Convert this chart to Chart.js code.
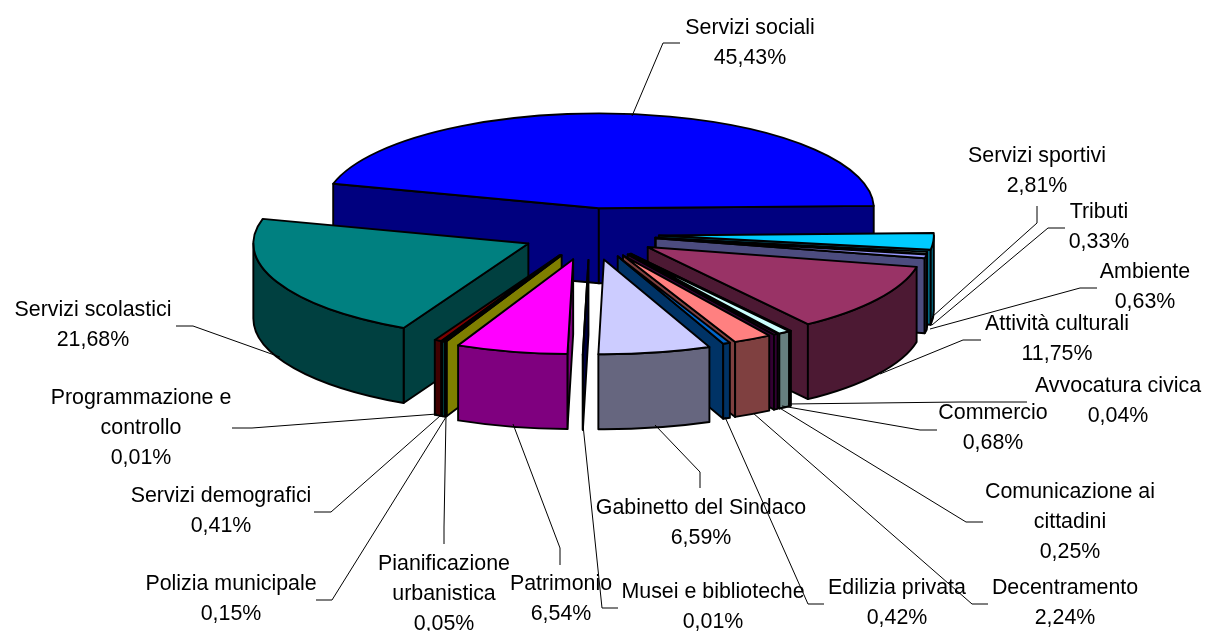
<!DOCTYPE html>
<html>
<head>
<meta charset="utf-8">
<title>Spesa per servizi</title>
<script src="https://cdn.jsdelivr.net/npm/chart.js@4"></script>
<style>
  html, body { margin: 0; padding: 0; background: #fff; }
  canvas { display: block; }
</style>
</head>
<body>
<canvas id="grafico" width="1208" height="631"></canvas>
<script>
// categorie e valori, in senso orario a partire da Servizi sociali
const categorie = ['Servizi sociali', 'Servizi sportivi', 'Tributi', 'Ambiente', 'Attività culturali',
  'Avvocatura civica', 'Commercio', 'Comunicazione ai\ncittadini', 'Decentramento', 'Edilizia privata',
  'Gabinetto del Sindaco', 'Musei e biblioteche', 'Patrimonio', 'Pianificazione\nurbanistica',
  'Polizia municipale', 'Programmazione e\ncontrollo', 'Servizi demografici', 'Servizi scolastici'];
const valori = [45.43, 2.81, 0.33, 0.63, 11.75, 0.04, 0.68, 0.25, 2.24, 0.42, 6.59, 0.01, 6.54, 0.05, 0.15, 0.01, 0.41, 21.68];
const colori = ['#0000FF', '#00CCFF', '#CCFFFF', '#9999FF', '#993366', '#FFFFCC', '#CCFFFF', '#660066', '#FF8080',
  '#0066CC', '#CCCCFF', '#000080', '#FF00FF', '#FFFF00', '#00FFFF', '#800080', '#800000', '#008080'];
// offset delle fette (Chart.js ne usa la metà)
const stacchi = [150, 138, 132, 134, 138, 140, 140, 140, 140, 140, 150, 150, 150, 135, 138, 138, 138, 135];

// posizione delle etichette: centro x e baseline della prima riga
const etichetteX = [750, 1037, 1099, 1145, 1057, 1118, 993, 1070, 1065, 897, 701, 713, 561, 444, 231, 141, 221, 93];
const etichetteY = [34, 162, 218, 278, 330, 392, 419, 498, 594, 594, 514, 598, 590, 570, 590, 404, 502, 316];
// linee guida dall'etichetta alla fetta
const guide = [
  [[680, 43], [663, 43], [632, 116]],
  [[1037, 206], [1037, 223], [932, 317]],
  [[1065, 228], [1048, 228], [932, 325]],
  [[1097, 288], [1080, 288], [930, 329]],
  [[981, 340], [963, 340], [880, 374]],
  [[1027, 402], [960, 402], [788, 404]],
  [[937, 430], [920, 430], [782, 406]],
  [[983, 522], [966, 522], [778, 407]],
  [[988, 604], [972, 604], [753, 413]],
  [[824, 604], [808, 604], [725, 417]],
  [[700, 488], [700, 472], [655, 425]],
  [[618, 608], [602, 608], [583, 425]],
  [[560, 565], [560, 548], [513, 424]],
  [[444, 544], [444, 527], [446, 416]],
  [[316, 600], [332, 600], [446, 417]],
  [[232, 428], [252, 428], [437, 414]],
  [[314, 512], [331, 512], [440, 416]],
  [[176, 326], [193, 326], [280, 357]]
];

const SCHIACCIA = 0.345;  // rapporto ellisse
const SPESSORE = 75;      // altezza della torta

function scuro(hex) {
  const n = parseInt(hex.slice(1), 16);
  const r = (n >> 16) >> 1, g = ((n >> 8) & 255) >> 1, b = (n & 255) >> 1;
  return 'rgb(' + r + ',' + g + ',' + b + ')';
}

// disegna le fette in pseudo 3D partendo dagli archi calcolati dal grafico
const torta3d = {
  id: 'torta3d',
  beforeDatasetsDraw(chart) {
    const ctx = chart.ctx;
    const archi = chart.getDatasetMeta(0).data.map((arco, i) => {
      const mezzo = (arco.startAngle + arco.endAngle) / 2;
      const d = arco.options.offset / 2;
      return {
        i: i, a0: arco.startAngle, a1: arco.endAngle, r: arco.outerRadius, mezzo: mezzo,
        x: arco.x + d * Math.cos(mezzo),
        y: arco.y + d * SCHIACCIA * Math.sin(mezzo)
      };
    });
    // dalle fette dietro a quelle davanti
    archi.sort((p, q) => Math.sin(p.mezzo) - Math.sin(q.mezzo));

    ctx.save();
    ctx.strokeStyle = '#000';
    ctx.lineWidth = 1.9;
    ctx.lineJoin = 'round';
    archi.forEach(f => {
      const ry = f.r * SCHIACCIA;
      ctx.fillStyle = scuro(colori[f.i]);
      // pareti radiali visibili
      if (Math.cos(f.a0) < 0) parete(ctx, f, f.a0, ry);
      if (Math.cos(f.a1) > 0) parete(ctx, f, f.a1, ry);
      // parete curva, solo la parte davanti
      const da = Math.max(f.a0, 0), a = Math.min(f.a1, Math.PI);
      if (a > da) {
        ctx.beginPath();
        ctx.ellipse(f.x, f.y, f.r, ry, 0, da, a);
        ctx.ellipse(f.x, f.y + SPESSORE, f.r, ry, 0, a, da, true);
        ctx.closePath();
        ctx.fill();
        ctx.stroke();
      } else if (f.a1 - f.a0 < 0.01) {
        // fetta sottilissima: resta solo lo spigolo
        ctx.beginPath();
        ctx.moveTo(f.x + f.r * Math.cos(f.mezzo), f.y + ry * Math.sin(f.mezzo));
        ctx.lineTo(f.x + f.r * Math.cos(f.mezzo), f.y + ry * Math.sin(f.mezzo) + SPESSORE);
        ctx.stroke();
      }
      // faccia superiore
      ctx.fillStyle = colori[f.i];
      ctx.beginPath();
      ctx.moveTo(f.x, f.y);
      ctx.ellipse(f.x, f.y, f.r, ry, 0, f.a0, f.a1);
      ctx.closePath();
      ctx.fill();
      ctx.stroke();
    });
    ctx.restore();
    return false;
  },
  afterDraw(chart) {
    const ctx = chart.ctx;
    ctx.save();
    ctx.strokeStyle = '#000';
    ctx.lineWidth = 1;
    guide.forEach(g => {
      ctx.beginPath();
      g.forEach((p, j) => j ? ctx.lineTo(p[0], p[1]) : ctx.moveTo(p[0], p[1]));
      ctx.stroke();
    });
    ctx.fillStyle = '#000';
    ctx.font = '21.4px "Liberation Sans"';
    ctx.textAlign = 'center';
    categorie.forEach((nome, i) => {
      const righe = nome.split('\n');
      righe.push(valori[i].toFixed(2).replace('.', ',') + '%');
      righe.forEach((t, j) => ctx.fillText(t, etichetteX[i], etichetteY[i] + j * 30));
    });
    ctx.restore();
  }
};

function parete(ctx, f, ang, ry) {
  const px = f.x + f.r * Math.cos(ang), py = f.y + ry * Math.sin(ang);
  ctx.beginPath();
  ctx.moveTo(f.x, f.y);
  ctx.lineTo(px, py);
  ctx.lineTo(px, py + SPESSORE);
  ctx.lineTo(f.x, f.y + SPESSORE);
  ctx.closePath();
  ctx.fill();
  ctx.stroke();
}

new Chart(document.getElementById('grafico'), {
  type: 'pie',
  data: {
    labels: categorie,
    datasets: [{ data: valori, backgroundColor: colori, offset: stacchi, borderWidth: 0 }]
  },
  options: {
    responsive: false,
    animation: false,
    rotation: -75,
    radius: 275,
    layout: { padding: { right: 28, bottom: 163 } },
    plugins: { legend: { display: false }, tooltip: { enabled: false } }
  },
  plugins: [torta3d]
});
</script>
</body>
</html>
